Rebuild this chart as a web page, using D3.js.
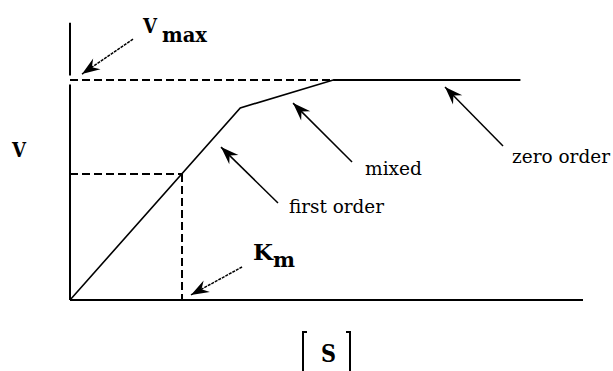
<!DOCTYPE html>
<html>
<head>
<meta charset="utf-8">
<script src="https://cdn.jsdelivr.net/npm/d3@7"></script>
<style>
  body { margin: 0; background: #fff; }
  svg { display: block; }
  text { font-family: "DejaVu Serif", "Liberation Serif", serif; fill: #000; }
</style>
</head>
<body>
<script>
// substrate concentration [S] in units of Km, and velocity V in units of Vmax
const sValues = [0, 1.52, 2.35, 4.02]
const vValues = [0, 0.873, 1, 1]
const km = 1
const vAtKm = 0.573
const vmax = 1
const sMax = 4.58
const vTop = 1.26

// arrow annotations: tail and tip in data units
const arrowTexts = ["first order", "mixed", "zero order"]
const arrowTails = [[1.857, 0.441], [2.518, 0.627], [3.866, 0.70]]
const arrowTips  = [[1.348, 0.695], [1.991, 0.895], [3.348, 0.968]]
const vmaxArrow = [[0.5625, 1.186], [0.107, 1.027]]
const kmArrow   = [[1.536, 0.15], [1.080, 0.023]]

const width = 613, height = 371

const svg = d3.select("body")
              .append("svg")
              .attr("width", width)
              .attr("height", height)

const x = d3.scaleLinear().domain([0, sMax]).range([70, 583])
const y = d3.scaleLinear().domain([0, vmax]).range([300, 80])

svg.append("defs")
   .append("marker")
      .attr("id", "head")
      .attr("viewBox", "-19 -7 21 14")
      .attr("refX", 0)
      .attr("refY", 0)
      .attr("orient", "auto")
      .attr("markerUnits", "userSpaceOnUse")
      .attr("markerWidth", 21)
      .attr("markerHeight", 14)
   .append("path")
      .attr("d", "M0,0 L-18,-6.5 L-12,0 L-18,6.5 Z")
      .attr("fill", "#000")

// axes
const axes = svg.append("g")
                .attr("stroke", "#000")
                .attr("stroke-width", 2)
                .attr("fill", "none")

axes.append("line")
    .attr("x1", x(0)).attr("x2", x(0))
    .attr("y1", y(vTop)).attr("y2", y(0))

axes.append("line")
    .attr("x1", x(0)).attr("x2", x(sMax))
    .attr("y1", y(0)).attr("y2", y(0))

// dashed guides
const guides = svg.append("g")
                  .attr("stroke", "#000")
                  .attr("stroke-width", 2)
                  .attr("stroke-dasharray", "8,4")
                  .attr("fill", "none")

guides.append("line")
      .attr("stroke", "#fff")
      .attr("stroke-dasharray", null)
      .attr("stroke-width", 9)
      .attr("x1", x(0) - 2).attr("x2", x(0) + 2)
      .attr("y1", y(vmax)).attr("y2", y(vmax))

guides.append("line")
      .attr("x1", x(0)).attr("x2", x(sValues[2]))
      .attr("y1", y(vmax)).attr("y2", y(vmax))

guides.append("line")
      .attr("x1", x(0)).attr("x2", x(km))
      .attr("y1", y(vAtKm)).attr("y2", y(vAtKm))

guides.append("line")
      .attr("x1", x(km)).attr("x2", x(km))
      .attr("y1", y(vAtKm)).attr("y2", y(0))

// the curve
const line = d3.line()
               .x((d, i) => x(sValues[i]))
               .y((d, i) => y(vValues[i]))

svg.append("path")
   .datum(sValues)
   .attr("d", line)
   .attr("fill", "none")
   .attr("stroke", "#000")
   .attr("stroke-width", 1.6)

svg.append("line")
   .attr("x1", x(sValues[2])).attr("x2", x(sValues[3]))
   .attr("y1", y(vmax)).attr("y2", y(vmax))
   .attr("stroke", "#000")
   .attr("stroke-width", 2)

// arrows
const drawArrow = (tail, tip, dashed) => svg.append("line")
   .attr("x1", x(tail[0])).attr("y1", y(tail[1]))
   .attr("x2", x(tip[0])).attr("y2", y(tip[1]))
   .attr("stroke", "#000")
   .attr("stroke-width", 1.5)
   .attr("stroke-dasharray", dashed ? "3,1" : null)
   .attr("marker-end", "url(#head)")

arrowTails.forEach((t, i) => drawArrow(t, arrowTips[i], false))
drawArrow(vmaxArrow[0], vmaxArrow[1], true)
drawArrow(kmArrow[0], kmArrow[1], true)

const labelOffsets = [[11, 10], [13, 13], [9, 17]]
const labelWidths = [95, 57, 98]

svg.selectAll("text.arrowLabel")
   .data(arrowTexts)
   .join("text")
      .attr("class", "arrowLabel")
      .attr("x", (d, i) => x(arrowTails[i][0]) + labelOffsets[i][0])
      .attr("y", (d, i) => y(arrowTails[i][1]) + labelOffsets[i][1])
      .attr("font-size", 19)
      .attr("textLength", (d, i) => labelWidths[i])
      .attr("lengthAdjust", "spacingAndGlyphs")
      .text(d => d)

// bold labels
const boldText = (px, py, size, str, len) => svg.append("text")
   .attr("x", px).attr("y", py)
   .attr("font-size", size)
   .attr("font-weight", "bold")
   .attr("textLength", len)
   .attr("lengthAdjust", "spacingAndGlyphs")
   .text(str)

boldText(143, 33, 21, "V", 14)
boldText(162, 42, 20, "max", 45)
boldText(12, 157, 21, "V", 14)
boldText(253, 260, 23, "K", 20)
boldText(273, 267, 20, "m", 22)
boldText(321, 362, 24, "S", 15)

// brackets around [S]
svg.append("path")
   .attr("d", "M307,332 H303 V371 M346,332 H350 V371")
   .attr("fill", "none")
   .attr("stroke", "#000")
   .attr("stroke-width", 2)
</script>
</body>
</html>
